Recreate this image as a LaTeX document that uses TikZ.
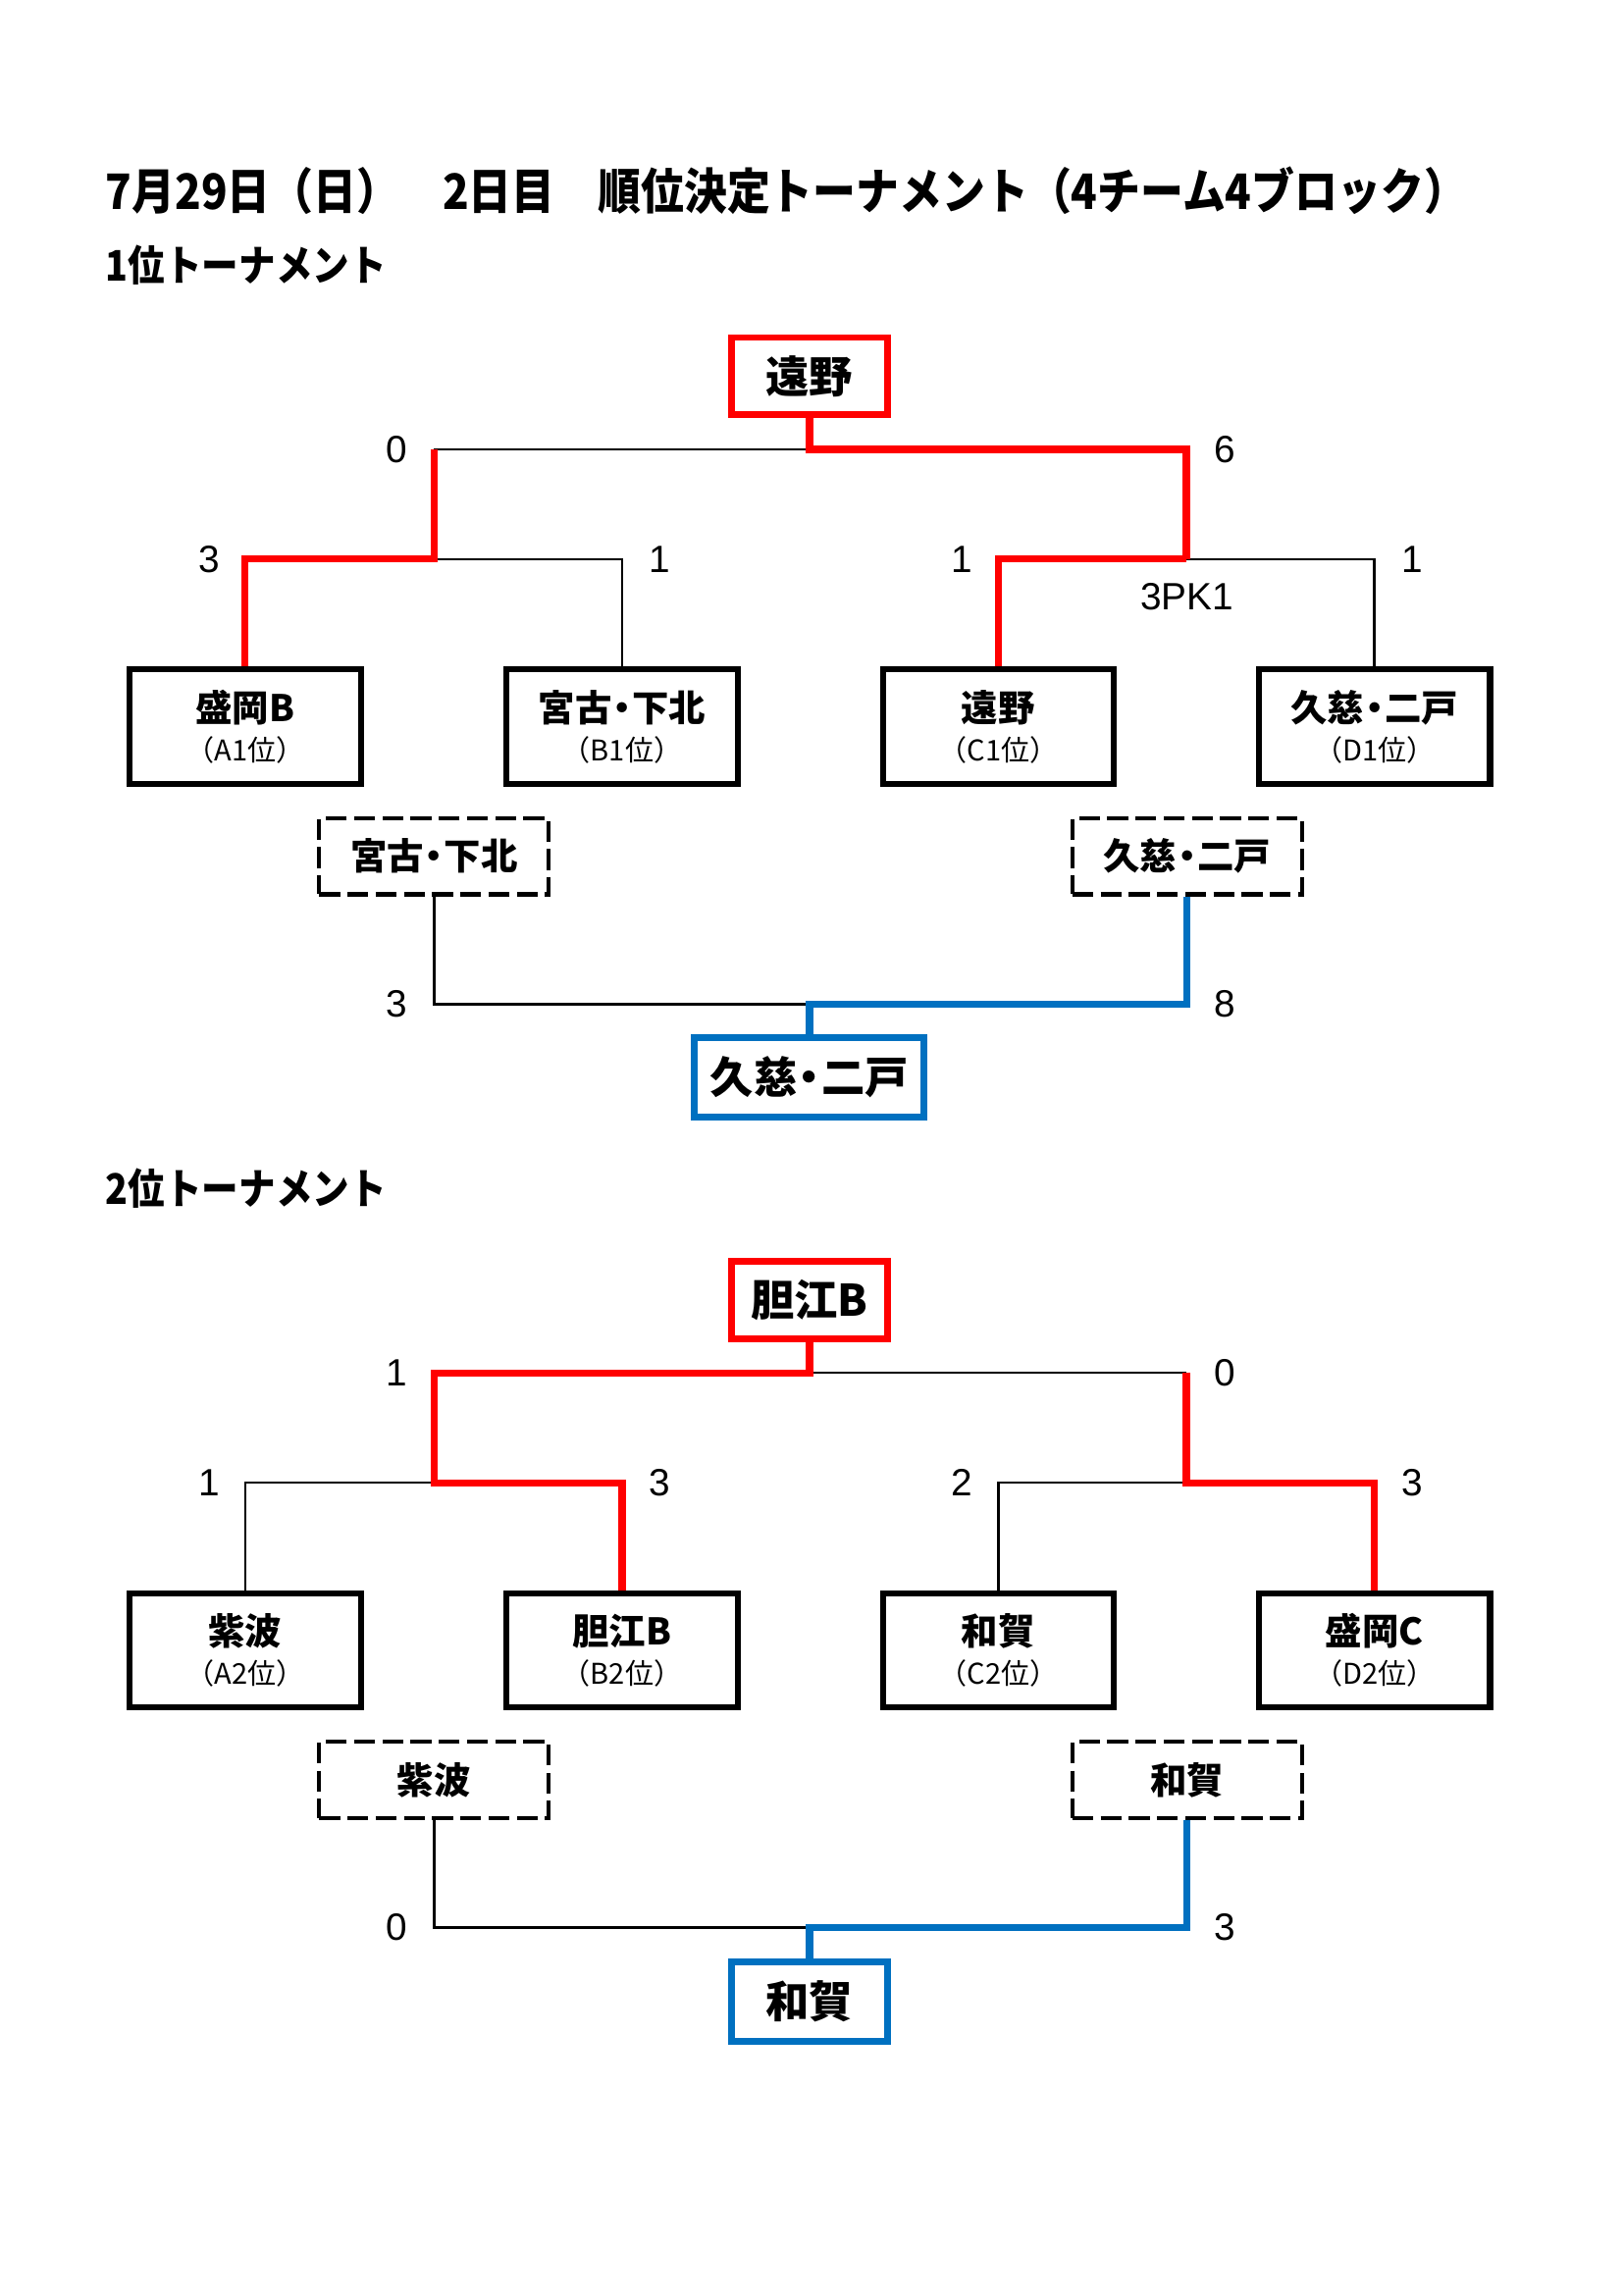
\documentclass[tikz,border=0pt]{standalone}
\usepackage{fontspec}
\setmainfont{Noto Sans CJK JP}
\newfontfamily\arialf{Liberation Sans}
\usetikzlibrary{calc}
\definecolor{tblue}{RGB}{0,112,192}
\definecolor{tred}{RGB}{255,0,0}
\newcommand{\nd}{\hspace{-0.22em}・\hspace{-0.22em}}
\newcommand{\teamtxt}[2]{{\fontsize{13.5}{14}\selectfont\bfseries #1}\\[2.5pt]{\fontsize{10.5}{11}\selectfont #2}}
\begin{document}
\begin{tikzpicture}[x=0.18936mm,y=-0.18936mm,
  win/.style={draw=tred, line width=2.6pt},
  lose/.style={draw=black, line width=0.9pt},
  thirdwin/.style={draw=tblue, line width=2.6pt},
  team/.style={draw, line width=1.6pt, minimum width=30.1mm, minimum height=15mm, inner sep=0pt, align=center},
  champ/.style={draw=tred, line width=2.5pt, minimum width=20.1mm, minimum height=10mm, inner sep=0pt, font=\fontsize{16}{18}\selectfont\bfseries},
  bronze/.style={draw=tblue, line width=2.5pt, minimum height=10.2mm, inner sep=0pt, font=\fontsize{16}{18}\selectfont\bfseries},
  dashbox/.style={draw, line width=1.55pt, dash pattern=on 2.7mm off 0.95mm, minimum width=29.7mm, minimum height=9.85mm, inner sep=0pt, font=\fontsize{13.5}{15}\selectfont\bfseries},
  score/.style={font=\arialf\fontsize{14}{16}\selectfont, inner sep=0pt},
  heading/.style={anchor=west, inner sep=0pt, font=\bfseries}
]
\useasboundingbox (0,0) rectangle (1109,1568);

% headings
\node[heading, font=\fontsize{18}{20}\selectfont\bfseries] (title) at (72,130) {\scalebox{0.88}[1]{7月29日（日）　2日目　順位決定トーナメント（4チーム4ブロック）}};
\node[heading, font=\fontsize{15.5}{17}\selectfont\bfseries] (sub1) at (72,181) {\scalebox{0.875}[1]{1位トーナメント}};
\node[heading, font=\fontsize{15.5}{17}\selectfont\bfseries] (sub2) at (72,812) {\scalebox{0.875}[1]{2位トーナメント}};

% ===== Tournament 1 =====
\node[champ] (W1) at (553,257) {遠野};
\node[team] (A1) at (167.5,496.5) {\teamtxt{盛岡B}{（A1位）}};
\node[team] (B1) at (425,496.5) {\teamtxt{宮古\nd 下北}{（B1位）}};
\node[team] (C1) at (682,496.5) {\teamtxt{遠野}{（C1位）}};
\node[team] (D1) at (939,496.5) {\teamtxt{久慈\nd 二戸}{（D1位）}};
\node[dashbox] (L1) at (296.5,585) {宮古\nd 下北};
\node[dashbox] (R1) at (811,585) {久慈\nd 二戸};
\node[bronze, minimum width=29.7mm] (F1) at (553,736) {久慈\nd 二戸};

\coordinate (j1) at (553,307);
\coordinate (s1) at (296.5,382);
\coordinate (s2) at (810.5,382);
\coordinate (j3) at (553,686);

\draw[lose] (s1) -| (B1.north);
\draw[lose] (s2) -| (D1.north);
\draw[lose] (s1 |- j1) -- (j1);
\draw[win] (A1.north) |- (s1) -- (s1 |- j1);
\draw[win] (C1.north) |- (s2);
\draw[win] (W1.south) -- (j1) -| (s2);
\draw[lose] (L1.south) |- (j3);
\draw[thirdwin] (R1.south) |- (j3) -- (F1.north);

\node[score] (sc1) at (271,307) {0};
\node[score] (sc2) at (837,307) {6};
\node[score] (sc3) at (143,382) {3};
\node[score] (sc4) at (451,382) {1};
\node[score] (sc5) at (657,382) {1};
\node[score] (sc6) at (965,382) {1};
\node[score] (pk) at (811,408) {3PK1};
\node[score] (sc7) at (271,686) {3};
\node[score] (sc8) at (837,686) {8};

% ===== Tournament 2 =====
\node[champ] (W2) at (553,888) {胆江B};
\node[team] (A2) at (167.5,1127.5) {\teamtxt{紫波}{（A2位）}};
\node[team] (B2) at (425,1127.5) {\teamtxt{胆江B}{（B2位）}};
\node[team] (C2) at (682,1127.5) {\teamtxt{和賀}{（C2位）}};
\node[team] (D2) at (939,1127.5) {\teamtxt{盛岡C}{（D2位）}};
\node[dashbox] (L2) at (296.5,1216) {紫波};
\node[dashbox] (R2) at (811,1216) {和賀};
\node[bronze, minimum width=20.1mm] (F2) at (553,1367.5) {和賀};

\coordinate (j2) at (553,938);
\coordinate (t1) at (296.5,1013);
\coordinate (t2) at (810.5,1013);
\coordinate (j4) at (553,1317);

\draw[lose] (A2.north) |- (t1);
\draw[lose] (C2.north) |- (t2);
\draw[lose] (j2) -- (t2 |- j2);
\draw[win] (W2.south) -- (j2) -| (t1) -| (B2.north);
\draw[win] (t2 |- j2) -- (t2) -| (D2.north);
\draw[lose] (L2.south) |- (j4);
\draw[thirdwin] (R2.south) |- (j4) -- (F2.north);

\node[score] (sd1) at (271,938) {1};
\node[score] (sd2) at (837,938) {0};
\node[score] (sd3) at (143,1013) {1};
\node[score] (sd4) at (451,1013) {3};
\node[score] (sd5) at (657,1013) {2};
\node[score] (sd6) at (965,1013) {3};
\node[score] (sd7) at (271,1317) {0};
\node[score] (sd8) at (837,1317) {3};

% inner lines of the double-bordered team boxes
\foreach \n in {A1,B1,C1,D1,A2,B2,C2,D2}
  \draw[line width=0.7pt] ([shift={(0.65mm,-0.65mm)}]\n.north west) rectangle ([shift={(-0.65mm,0.65mm)}]\n.south east);
\end{tikzpicture}
\end{document}
